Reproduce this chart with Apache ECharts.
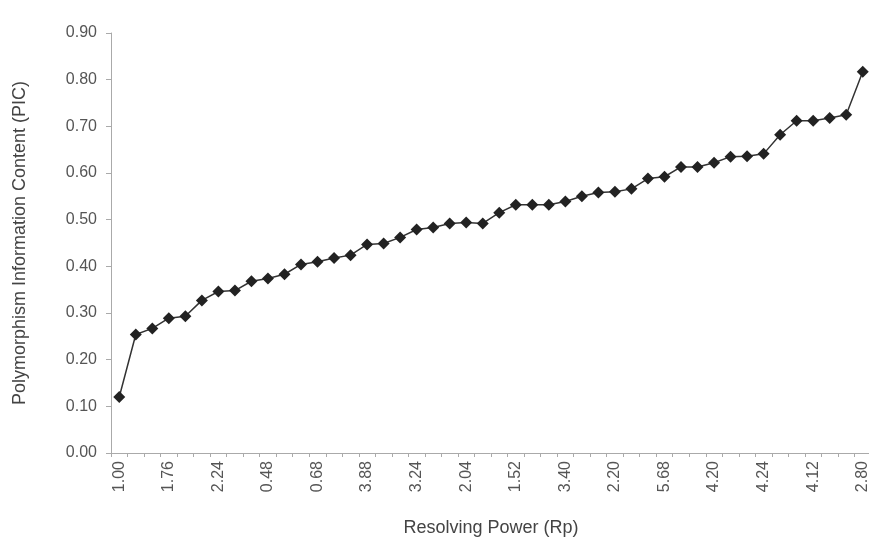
<!DOCTYPE html>
<html>
<head>
<meta charset="utf-8">
<script src="https://cdn.jsdelivr.net/npm/echarts@6/dist/echarts.min.js"></script>
<style>html,body{margin:0;padding:0;background:#fff}#chart{width:869px;height:548px}</style>
</head>
<body>
<div id="chart"></div>
<script>
// Category labels (Rp values); only every third label is legible in the reference, others left blank
var categories = [
  '1.00','','','1.76','','','2.24','','','0.48','','','0.68','','','3.88','','','3.24','','','2.04','','',
  '1.52','','','3.40','','','2.20','','','5.68','','','4.20','','','4.24','','','4.12','','','2.80'
];
var picValues = [
  0.120, 0.254, 0.267, 0.289, 0.293, 0.327, 0.346, 0.348, 0.368, 0.374,
  0.383, 0.404, 0.410, 0.418, 0.424, 0.447, 0.449, 0.462, 0.479, 0.483,
  0.492, 0.494, 0.492, 0.515, 0.532, 0.532, 0.532, 0.539, 0.550, 0.558,
  0.560, 0.566, 0.588, 0.592, 0.613, 0.613, 0.622, 0.635, 0.636, 0.641,
  0.682, 0.712, 0.712, 0.718, 0.725, 0.817
];
var yTicks = [0, 0.1, 0.2, 0.3, 0.4, 0.5, 0.6, 0.7, 0.8, 0.9];

var FONT = 'Liberation Sans, Arial, sans-serif';
var chart = echarts.init(document.getElementById('chart'));
chart.setOption({
  animation: false,
  backgroundColor: '#ffffff',
  textStyle: {fontFamily: FONT},
  grid: {left: 111, right: -2, top: 33, bottom: 95, containLabel: false, outerBoundsMode: 'none'},
  xAxis: {
    type: 'category',
    data: categories,
    boundaryGap: true,
    name: 'Resolving Power (Rp)',
    nameLocation: 'middle',
    nameGap: 66,
    nameTextStyle: {fontSize: 18, color: '#444', fontFamily: FONT},
    axisLine: {lineStyle: {color: '#aaa', width: 1}},
    axisTick: {show: true, interval: 0, length: 4, lineStyle: {color: '#aaa'}},
    axisLabel: {interval: 2, rotate: 90, fontSize: 16, color: '#555', margin: 8, fontFamily: FONT},
    splitLine: {show: false}
  },
  yAxis: {
    type: 'value',
    min: yTicks[0],
    max: yTicks[yTicks.length - 1],
    interval: 0.1,
    name: 'Polymorphism Information Content (PIC)',
    nameLocation: 'middle',
    nameGap: 82,
    nameTextStyle: {fontSize: 18, color: '#444', fontFamily: FONT},
    axisLine: {show: true, lineStyle: {color: '#aaa', width: 1}},
    axisTick: {show: true, length: 5, lineStyle: {color: '#aaa'}},
    axisLabel: {fontSize: 16, color: '#555', margin: 14, fontFamily: FONT,
      formatter: function (v) { return v.toFixed(2); }},
    splitLine: {show: false}
  },
  series: [{
    type: 'line',
    data: picValues,
    symbol: 'diamond',
    symbolSize: 12,
    showAllSymbol: true,
    itemStyle: {color: '#222'},
    lineStyle: {color: '#333', width: 1.5}
  }]
});
</script>
</body>
</html>
